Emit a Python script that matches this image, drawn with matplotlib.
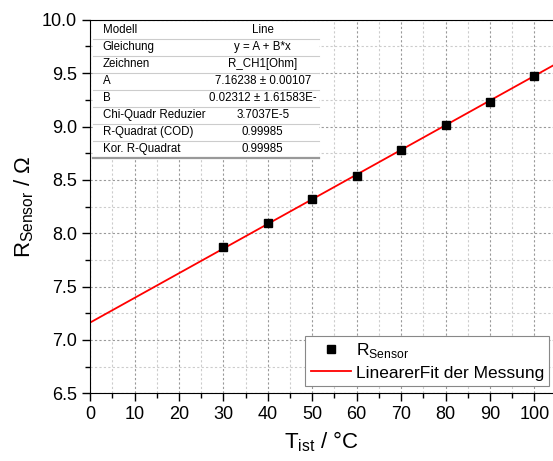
import numpy as np
import matplotlib.pyplot as plt
from matplotlib.ticker import MultipleLocator
from matplotlib.patches import Rectangle

plt.rcParams['font.family'] = ['Liberation Sans', 'DejaVu Sans']

# measured data
temp = [30, 40, 50, 60, 70, 80, 90, 100]
r_sensor = [7.866, 8.095, 8.322, 8.535, 8.784, 9.012, 9.233, 9.472]

# fit parameters
fit_a = 7.16238
fit_b = 0.02312

table_keys = ['Modell', 'Gleichung', 'Zeichnen', 'A', 'B',
              'Chi-Quadr Reduzier', 'R-Quadrat (COD)', 'Kor. R-Quadrat']
table_vals = ['Line', 'y = A + B*x', 'R_CH1[Ohm]', '7.16238 ± 0.00107',
              '0.02312 ± 1.61583E-', '3.7037E-5', '0.99985', '0.99985']

fig = plt.figure(figsize=(5.53, 4.61), dpi=100)
ax = fig.add_axes([0.163, 0.147, 0.837, 0.81])

x_fit = np.linspace(0, 105, 50)
l_fit, = ax.plot(x_fit, fit_a + fit_b * x_fit, 'r-', lw=1.3, zorder=3)
l_pts, = ax.plot(temp, r_sensor, 's', color='k', ms=6, zorder=4)

ax.set_xlim(0, 104.2)
ax.set_ylim(6.5, 10.0)
ax.xaxis.set_major_locator(MultipleLocator(10))
ax.xaxis.set_minor_locator(MultipleLocator(5))
ax.yaxis.set_major_locator(MultipleLocator(0.5))
ax.yaxis.set_minor_locator(MultipleLocator(0.25))
ax.yaxis.set_major_formatter(plt.FormatStrFormatter('%.1f'))
ax.tick_params(which='major', direction='out', length=6, width=1, labelsize=13)
ax.tick_params(which='minor', direction='out', length=3.5, width=1)
ax.grid(which='major', ls=(0, (2, 2)), color='#999999', lw=0.8)
ax.grid(which='minor', ls=(0, (2, 2)), color='#cccccc', lw=0.8)
ax.spines['right'].set_visible(False)
for sp in ax.spines.values():
    sp.set_zorder(8)

ax.set_xlabel(r'T$_{\mathregular{ist}}$ / °C', fontsize=16)
ax.set_ylabel(r'R$_{\mathregular{Sensor}}$ / Ω', fontsize=16)

leg = ax.legend([l_pts, l_fit], [r'R$_{\mathregular{Sensor}}$', 'LinearerFit der Messung'],
                loc='lower right', bbox_to_anchor=(0.992, 0.02), fontsize=12.5,
                fancybox=False, framealpha=1, edgecolor='#888888',
                handlelength=2.3, handletextpad=0.3, borderpad=0.3,
                labelspacing=0.3, borderaxespad=0.0)
leg.get_frame().set_linewidth(0.8)

# fit result table
t_left, t_right, t_top, t_bot = 0.007, 0.494, 0.995, 0.63
ax.add_patch(Rectangle((t_left, t_bot), t_right - t_left, t_top - t_bot,
                       transform=ax.transAxes, facecolor='white', edgecolor='none', zorder=5))
row_h = (t_top - t_bot) / len(table_keys)
for i, (k, v) in enumerate(zip(table_keys, table_vals)):
    yc = t_top - (i + 0.5) * row_h
    ax.text(t_left + 0.02, yc, k, transform=ax.transAxes, fontsize=8.3,
            ha='left', va='center', zorder=6)
    ax.text(0.373, yc, v, transform=ax.transAxes, fontsize=8.3,
            ha='center', va='center', zorder=6)
    yl = t_top - (i + 1) * row_h
    last = i == len(table_keys) - 1
    ax.plot([t_left, t_right], [yl, yl], transform=ax.transAxes,
            color='#999999' if last else '#cccccc', lw=1.6 if last else 0.8,
            zorder=6, clip_on=False)

fig.savefig('out.png', dpi=100)
